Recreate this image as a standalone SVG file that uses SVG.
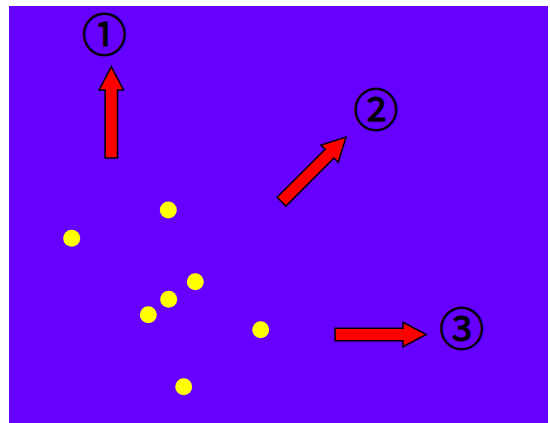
<svg xmlns="http://www.w3.org/2000/svg" width="550" height="423" viewBox="0 0 550 423">
<style>
.bg{fill:#6600ff}
.dot{fill:#ffff00}
.arrow{fill:#ff0000;stroke:#000;stroke-width:1.5;stroke-linejoin:miter}
.num{font-family:"Noto Sans CJK JP","DejaVu Sans",sans-serif;font-size:45px;font-weight:400;fill:#000;stroke:#000;stroke-width:0.9;text-anchor:middle;dominant-baseline:central}
</style>
<defs>
<path id="arr" d="M-6.2,0 L-6.2,-68 L-12.2,-68 L0,-91.3 L12.2,-68 L6.2,-68 L6.2,0 Z"/>
</defs>
<rect class="bg" x="9" y="6" width="539" height="417"/>
<g id="dots">
<circle class="dot" cx="168.3" cy="210" r="8.5"/>
<circle class="dot" cx="71.7" cy="238.3" r="8.5"/>
<circle class="dot" cx="195.3" cy="281.7" r="8.5"/>
<circle class="dot" cx="168.7" cy="299.3" r="8.5"/>
<circle class="dot" cx="148.3" cy="314.7" r="8.5"/>
<circle class="dot" cx="260.7" cy="329.7" r="8.5"/>
<circle class="dot" cx="183.7" cy="386.7" r="8.5"/>
</g>
<g id="arrow1"><use href="#arr" class="arrow" transform="translate(111.3,158)"/></g>
<g id="arrow2"><use href="#arr" class="arrow" transform="translate(281.5,201.7) rotate(45)"/></g>
<g id="arrow3"><use href="#arr" class="arrow" transform="translate(335,334.5) rotate(90)"/></g>
<g id="label1"><text class="num" x="104.5" y="32">①</text></g>
<g id="label2"><text class="num" x="376" y="107.7">②</text></g>
<g id="label3"><text class="num" x="461.7" y="326">③</text></g>
</svg>
